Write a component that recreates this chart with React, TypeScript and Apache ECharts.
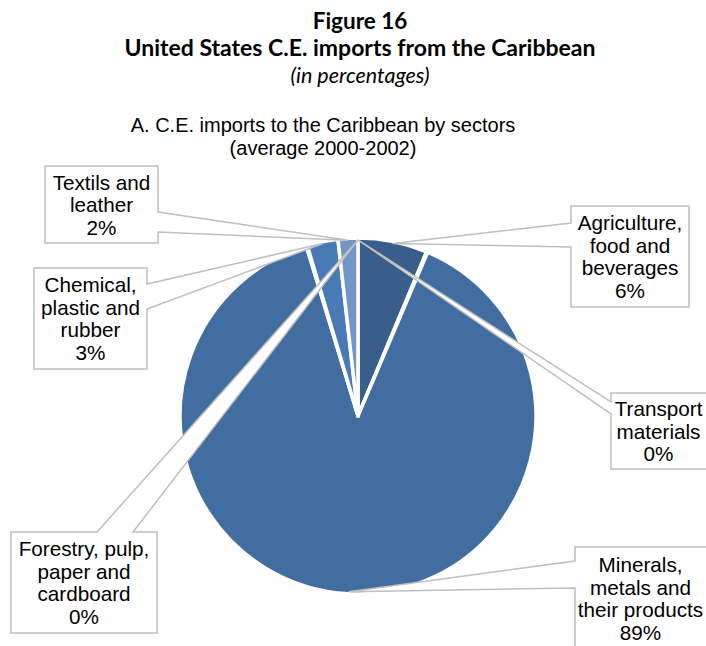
import React, { useEffect, useRef } from "react";
import * as echarts from "echarts";

// ---- data ----
const sectors = [
  "Agriculture,\nfood and\nbeverages",
  "Transport\nmaterials",
  "Minerals,\nmetals and\ntheir products",
  "Forestry, pulp,\npaper and\ncardboard",
  "Chemical,\nplastic and\nrubber",
  "Textils and\nleather",
];
const shares = [6.3, 0.1, 88.9, 0.1, 2.8, 1.8];
const colors = ["#3A5E8C", "#4470A6", "#426DA0", "#5A84BC", "#4A7AB6", "#7396C8"];

const titleLines = ["Figure 16", "United States C.E. imports from the Caribbean", "(in percentages)"];
const subtitleLines = ["A. C.E. imports to the Caribbean by sectors", "(average 2000-2002)"];

// ---- layout (callout boxes) ----
type Side = "left" | "right" | "top";
const callouts: { box: [number, number, number, number]; side: Side; base: [number, number] }[] = [
  { box: [571, 206, 689, 307], side: "left", base: [223, 247] },
  { box: [611, 393, 712, 469], side: "left", base: [402, 414] },
  { box: [575, 547, 712, 662], side: "left", base: [561, 588] },
  { box: [11, 532, 157, 633], side: "top", base: [97, 133] },
  { box: [34, 268, 147, 369], side: "right", base: [284, 309] },
  { box: [45, 166, 158, 243], side: "right", base: [212, 232] },
];

const CX = 358;
const CY = 416;
const R = 178;
const FONT = '20.7px "Liberation Sans", Arial, sans-serif';

export default function App() {
  const ref = useRef<HTMLDivElement>(null);
  useEffect(() => {
    if (!ref.current) return;
    const chart = echarts.init(ref.current, undefined, { renderer: "svg" });
    const total = shares.reduce((a, b) => a + b, 0);

    const graphics: any[] = [];
    // titles
    const tY = [20, 47, 75];
    const tFonts = [
      'bold 22.5px Lato, "Open Sans", sans-serif',
      'bold 23px Lato, "Open Sans", sans-serif',
      'italic 21.5px Lato, "Open Sans", sans-serif',
    ];
    titleLines.forEach((t, i) => {
      graphics.push({
        type: "text",
        x: 360,
        y: tY[i],
        z: 100,
        style: {
          text: t,
          align: "center",
          verticalAlign: "middle",
          textAlign: "center",
          textVerticalAlign: "middle",
          font: tFonts[i],
          fill: "#000",
        },
      });
    });
    const sY = [125, 148];
    subtitleLines.forEach((t, i) => {
      graphics.push({
        type: "text",
        x: 323,
        y: sY[i],
        z: 100,
        style: {
          text: t,
          align: "center",
          verticalAlign: "middle",
          textAlign: "center",
          textVerticalAlign: "middle",
          font: '20px "Liberation Sans", Arial, sans-serif',
          fill: "#000",
        },
      });
    });

    // callouts
    let cum = 0;
    shares.forEach((v, i) => {
      const pct = (v / total) * 100;
      const rounded = Math.round(pct);
      const mid = cum + (v / total) * 180;
      cum += (v / total) * 360;
      const ang = rounded === 0 ? 0 : mid;
      const rad = (ang * Math.PI) / 180;
      const r = R - 2;
      const apex = [CX + r * Math.sin(rad), CY - r * Math.cos(rad)];
      const c = callouts[i];
      const [x0, y0, x1, y1] = c.box;
      let pts: number[][];
      if (c.side === "left") {
        pts = [[x0, y0], [x1, y0], [x1, y1], [x0, y1], [x0, c.base[1]], apex, [x0, c.base[0]]];
      } else if (c.side === "right") {
        pts = [[x0, y0], [x1, y0], [x1, c.base[0]], apex, [x1, c.base[1]], [x1, y1], [x0, y1]];
      } else {
        pts = [[x0, y0], [c.base[0], y0], apex, [c.base[1], y0], [x1, y0], [x1, y1], [x0, y1]];
      }
      graphics.push({
        type: "polygon",
        z: 100,
        shape: { points: pts },
        style: { fill: "#fff", stroke: "#BFBFBF", lineWidth: 1.5 },
      });
      graphics.push({
        type: "text",
        x: (x0 + Math.min(x1, 706)) / 2,
        y: (y0 + y1) / 2 + (i === 2 ? -6 : 0),
        z: 101,
        style: {
          text: sectors[i] + "\n" + rounded + "%",
          align: "center",
          verticalAlign: "middle",
          textAlign: "center",
          textVerticalAlign: "middle",
          font: FONT,
          lineHeight: 22.5,
          fill: "#000",
        },
      });
    });

    chart.setOption({
      animation: false,
      backgroundColor: "#fff",
      series: [
        {
          type: "pie",
          center: [CX, CY],
          radius: R,
          startAngle: 90,
          clockwise: true,
          avoidLabelOverlap: false,
          label: { show: false },
          labelLine: { show: false },
          itemStyle: { borderColor: "#fff", borderWidth: 3.5 },
          data: sectors.map((n, i) => ({ name: n, value: shares[i], itemStyle: { color: colors[i] } })),
        },
      ],
      graphic: { elements: graphics },
    });
    return () => chart.dispose();
  }, []);
  return <div ref={ref} style={{ position: "absolute", left: 0, top: 0, width: 706, height: 646 }} />;
}
